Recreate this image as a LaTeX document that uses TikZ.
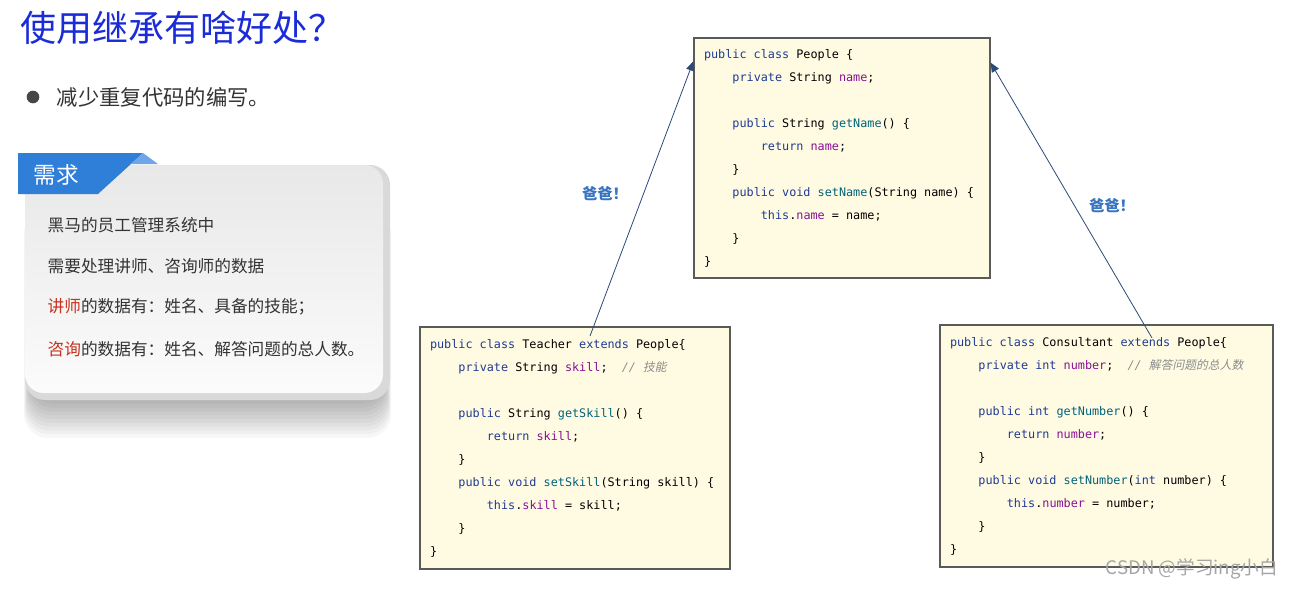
\documentclass[tikz,border=0pt]{standalone}
\usepackage{fontspec}
\newfontfamily\codefont{DejaVu Sans Mono}[WordSpace={1,0,0}]
\newfontfamily\cjk{Noto Sans CJK SC}
\newfontfamily\cjkit[FakeSlant=0.2]{Noto Sans CJK SC}
\usetikzlibrary{arrows.meta}
\definecolor{titleblue}{HTML}{1A2BD8}
\definecolor{tabblue}{HTML}{2F7ED8}
\definecolor{foldblue}{HTML}{6FA6E8}
\definecolor{dadblue}{HTML}{3A74C0}
\definecolor{arrowblue}{HTML}{2B4A7A}
\definecolor{txtgray}{HTML}{333333}
\definecolor{hired}{HTML}{C8321E}
\definecolor{codebg}{HTML}{FFFBE3}
\definecolor{codeline}{HTML}{5A5A5A}
\definecolor{kwblue}{HTML}{1F3A93}
\definecolor{fldpurple}{HTML}{871094}
\definecolor{mthteal}{HTML}{00627A}
\definecolor{cmtgray}{HTML}{8C8C8C}
\newcommand\jkw[1]{\textcolor{kwblue}{#1}}
\newcommand\jfld[1]{\textcolor{fldpurple}{#1}}
\newcommand\jmth[1]{\textcolor{mthteal}{#1}}
\newcommand\jcmt[1]{\textcolor{cmtgray}{\itshape #1}}
\newcommand\codeind{\hspace*{2.41em}}
\newcommand\csp{\hspace*{0.602em}}
\tikzstyle{code} = [draw=codeline,line width=1pt,fill=codebg,align=left,inner xsep=7.5pt,
  font=\codefont\fontsize{8.85}{17.25}\selectfont,text=black]
\tikzstyle{card} = [font=\cjk\fontsize{12.5}{15}\selectfont,text=txtgray,anchor=west]
\tikzstyle{dad} = [font=\cjk\bfseries\fontsize{11.5}{13}\selectfont,text=dadblue]
\tikzstyle{inherit} = [draw=arrowblue,line width=0.6pt,-{Triangle[length=7pt,width=6pt]}]
\begin{document}
\begin{tikzpicture}[x=0.75pt,y=-0.75pt]
	\useasboundingbox[fill=white] (0,0) rectangle (1294,589);
	
	\node [font=\cjk\fontsize{27}{30}\selectfont,text=titleblue,anchor=west] (title) at (16,28) {使用继承有啥好处？};
	\node [circle,fill=txtgray!90,inner sep=0pt,minimum size=9.5pt] (dot) at (33,97) {};
	\node [font=\cjk\fontsize{16}{18}\selectfont,text=txtgray,anchor=west] (less) at (52,97) {减少重复代码的编写。};
	%%%%%%%%%%%%%%%
	% card with shadow
	\foreach \i in {1,...,10}
		\fill [black,opacity=0.032,rounded corners=18pt] (30-\i*0.6,200+\i) rectangle (385+\i*0.6,400+\i*3.8);
	\fill [gray!30,rounded corners=15pt] (25,165) rectangle (390,400);
	\shade [top color=gray!18,bottom color=gray!3,rounded corners=14pt] (25,165) rectangle (383,393);
	\fill [tabblue] (18,153) -- (143,153) -- (98,194) -- (18,194) -- cycle;
	\fill [foldblue] (143,153) -- (158,164) -- (131,164) -- cycle;
	\node [font=\cjk\fontsize{17}{19}\selectfont,text=white,anchor=west] (need) at (29,175) {需求};
	\node [card] (l1) at (43,225) {黑马的员工管理系统中};
	\node [card] (l2) at (43,266) {需要处理讲师、咨询师的数据};
	\node [card] (l3) at (43,307) {\textcolor{hired}{讲师}的数据有：姓名、具备的技能；};
	\node [card] (l4) at (43,349) {\textcolor{hired}{咨询}的数据有：姓名、解答问题的总人数。};
	%%%%%%%%%%%%%%%
	\node [code,minimum width=222pt,minimum height=180pt,text width=207pt] (people) at (842,158) {%
\jkw{public\csp class}\csp People\csp\{\\
\codeind\jkw{private}\csp String\csp\jfld{name};\\
\mbox{}\\
\codeind\jkw{public}\csp String\csp\jmth{getName}()\csp\{\\
\codeind\codeind\jkw{return}\csp\jfld{name};\\
\codeind\}\\
\codeind\jkw{public\csp void}\csp\jmth{setName}(String\csp name)\csp\{\\
\codeind\codeind\jkw{this}.\jfld{name}\csp=\csp name;\\
\codeind\}\\
\}};
	\node [code,minimum width=232.5pt,minimum height=181.5pt,text width=217.5pt] (teacher) at (575,448) {%
\jkw{public\csp class}\csp Teacher\csp\jkw{extends}\csp People\{\\
\codeind\jkw{private}\csp String\csp\jfld{skill};\csp\csp\jcmt{//\csp{\cjkit 技能}}\\
\mbox{}\\
\codeind\jkw{public}\csp String\csp\jmth{getSkill}()\csp\{\\
\codeind\codeind\jkw{return}\csp\jfld{skill};\\
\codeind\}\\
\codeind\jkw{public\csp void}\csp\jmth{setSkill}(String\csp skill)\csp\{\\
\codeind\codeind\jkw{this}.\jfld{skill}\csp=\csp skill;\\
\codeind\}\\
\}};
	\node [code,minimum width=249.75pt,minimum height=181.5pt,text width=234.75pt] (consultant) at (1106.5,446) {%
\jkw{public\csp class}\csp Consultant\csp\jkw{extends}\csp People\{\\
\codeind\jkw{private\csp int}\csp\jfld{number};\csp\csp\jcmt{//\csp{\cjkit 解答问题的总人数}}\\
\mbox{}\\
\codeind\jkw{public\csp int}\csp\jmth{getNumber}()\csp\{\\
\codeind\codeind\jkw{return}\csp\jfld{number};\\
\codeind\}\\
\codeind\jkw{public\csp void}\csp\jmth{setNumber}(\jkw{int}\csp number)\csp\{\\
\codeind\codeind\jkw{this}.\jfld{number}\csp=\csp number;\\
\codeind\}\\
\}};
	%%%%%%%%%%%%%%%
	\coordinate (tfrom) at (590,336);
	\coordinate (cfrom) at (1152,338);
	\draw [inherit] (tfrom) -- ([yshift=-18pt]people.north west);
	\draw [inherit] (cfrom) -- ([yshift=-19pt]people.north east);
	\node [dad] (dad1) at (605,194) {爸爸！};
	\node [dad] (dad2) at (1112,206) {爸爸！};
	
	\node [font=\cjk\fontsize{14}{16}\selectfont,text=gray!70] (mark) at (1192,569) {CSDN @学习ing小白};
	
\end{tikzpicture}
\end{document}
